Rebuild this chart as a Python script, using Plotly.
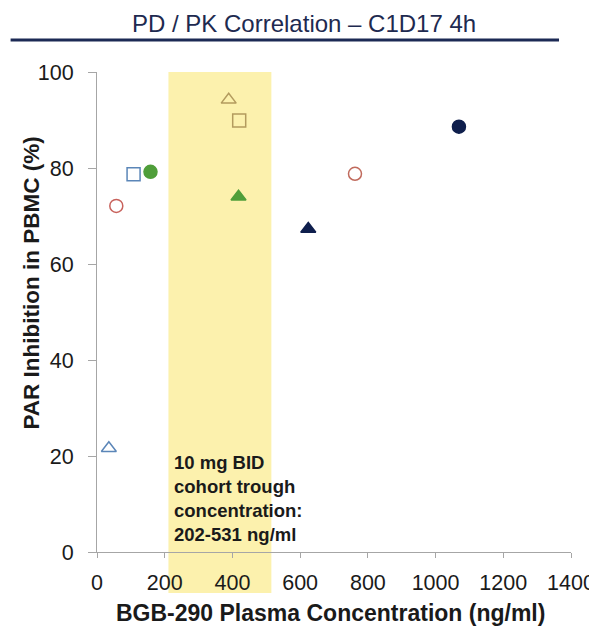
import plotly.graph_objects as go

# Data
conc = [35, 57, 108, 158, 389, 420, 418, 624, 762, 1069]          # ng/ml
inhibition = [21.6, 72.1, 78.7, 79.2, 94.2, 89.9, 74.0, 67.3, 78.8, 88.6]  # %
symbols = ["triangle-up-open", "circle-open", "square-open", "circle",
           "triangle-up-open", "square-open", "triangle-up", "triangle-up",
           "circle-open", "circle"]
colors = ["#5b86b8", "#c8625c", "#5b86b8", "#4f9e3a",
          "#b39b5e", "#b39b5e", "#4f9e3a", "#0f1f4d",
          "#c06a5c", "#0f1f4d"]

band_lo, band_hi = 211, 515
x_ticks = [0, 200, 400, 600, 800, 1000, 1200, 1400]
y_ticks = [0, 20, 40, 60, 80, 100]

FONT = "Liberation Sans, Arial, sans-serif"

# page has an 8px body margin; work in figure pixels
OFF = 8
W, H = 597 - OFF, 633 - OFF
L, T = 96.5 - OFF, 72 - OFF
PW, PH = 571 - 96.5, 480
R = W - L - PW
B = H - T - PH


def px(xpage):
    return (xpage - OFF - L) / PW


def py(ypage):
    return (T + PH - (ypage - OFF)) / PH


fig = go.Figure()
fig.add_shape(type="rect", xref="x", yref="paper", x0=band_lo, x1=band_hi,
              y0=py(593), y1=1, fillcolor="#fcf1ad", line=dict(width=0),
              layer="below")

fig.add_trace(go.Scatter(
    x=conc, y=inhibition, mode="markers",
    marker=dict(symbol=symbols, color=colors, size=13,
                line=dict(color=colors, width=1.5)),
    showlegend=False, cliponaxis=False,
))

fig.add_annotation(x=222, y=py(450), xref="x", yref="paper", xanchor="left",
                   yanchor="top", align="left", showarrow=False,
                   text="<b>10 mg BID<br>cohort trough<br>concentration:<br>202-531 ng/ml</b>",
                   font=dict(family=FONT, size=18.5, color="#1a1a1a"))

fig.add_annotation(x=px(304), y=py(8), xref="paper", yref="paper",
                   xanchor="center", yanchor="top",
                   text="PD / PK Correlation – C1D17 4h", showarrow=False,
                   font=dict(family=FONT, size=24, color="#1e2a50"))
fig.add_annotation(x=px(30), y=py(283), xref="paper", yref="paper",
                   xanchor="center", yanchor="middle",
                   text="<b>PAR Inhibition in PBMC (%)</b>", showarrow=False,
                   textangle=-90, font=dict(family=FONT, size=22.5, color="#1a1a1a"))
fig.add_annotation(x=px(330), y=py(613), xref="paper", yref="paper",
                   xanchor="center", yanchor="middle",
                   text="<b>BGB-290 Plasma Concentration (ng/ml)</b>", showarrow=False,
                   font=dict(family=FONT, size=23, color="#1a1a1a"))
fig.add_shape(type="line", xref="paper", yref="paper",
              x0=px(10), x1=px(559), y0=py(40), y1=py(40),
              line=dict(color="#1c2a55", width=3))

fig.update_layout(
    width=W, height=H,
    margin=dict(l=L, r=R, t=T, b=B, pad=0, autoexpand=False),
    paper_bgcolor="white", plot_bgcolor="white",
    font=dict(family=FONT, size=21, color="#1a1a1a"),
    xaxis=dict(range=[0, 1400], tickvals=x_ticks, showgrid=False, zeroline=False,
               showline=True, linecolor="#a6a6a6", linewidth=1,
               ticks="outside", ticklen=5, tickcolor="#a6a6a6",
               ticklabelstandoff=6, automargin=False, ticklabeloverflow="allow",
               tickfont=dict(size=21.5, color="#1a1a1a")),
    yaxis=dict(range=[0, 100], tickvals=y_ticks, showgrid=False, zeroline=False,
               showline=True, linecolor="#a6a6a6", linewidth=1,
               ticks="outside", ticklen=8, tickcolor="#a6a6a6",
               ticklabelstandoff=10, automargin=False,
               tickfont=dict(size=21.5, color="#1a1a1a")),
)

fig.write_html("out.html")
